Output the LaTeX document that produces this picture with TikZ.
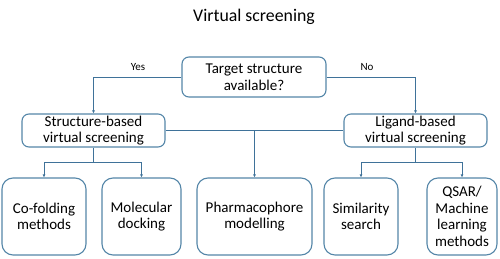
\documentclass[tikz,border=0pt]{standalone}
\usepackage{fontspec}
\setmainfont{Carlito}
\usetikzlibrary{arrows.meta}
\definecolor{boxc}{HTML}{5486A8}
\definecolor{linec}{HTML}{3F7299}
\begin{document}
\begin{tikzpicture}[x=1pt,y=-1pt,
  box/.style={draw=boxc,line width=1.1pt,rounded corners=7pt,align=center,inner sep=0pt,font=\fontsize{15}{16.5}\selectfont},
  bigbox/.style={box,rounded corners=11pt},
  conn/.style={draw=linec,line width=0.9pt},
  arr/.style={conn,-{Latex[length=3pt,width=3pt]}},
  lab/.style={font=\fontsize{11}{12}\selectfont,inner sep=0pt}]
\useasboundingbox (0,0) rectangle (500,259);
\node[font=\fontsize{17.8}{20}\selectfont,inner sep=0pt] (title) at (254,17) {Virtual screening};
\node[box,minimum width=144pt,minimum height=40pt] (ts) at (254,77) {Target structure\\available?};
\node[box,minimum width=143pt,minimum height=33pt] (sb) at (93.5,130.5) {Structure-based\\virtual screening};
\node[box,minimum width=143pt,minimum height=33pt] (lb) at (415.5,130.5) {Ligand-based\\virtual screening};
\node[bigbox,minimum width=84pt,minimum height=77pt] (cf) at (44,216.5) {Co-folding\\methods};
\node[bigbox,minimum width=79pt,minimum height=77pt] (md) at (141.5,216.5) {Molecular\\docking};
\node[bigbox,minimum width=115pt,minimum height=77pt] (ph) at (254.5,216.5) {Pharmacophore\\modelling};
\node[bigbox,minimum width=74pt,minimum height=77pt] (ss) at (361,216.5) {Similarity\\search};
\node[bigbox,minimum width=70pt,minimum height=77pt] (qs) at (462,216.5) {QSAR/\\Machine\\learning\\methods};
\node[lab] (yes) at (138,67) {Yes};
\node[lab] (no) at (367,67) {No};
\draw[arr] (ts.west) -| (sb.north);
\draw[arr] (ts.east) -| (lb.north);
\draw[conn] (sb.east) -- (lb.west) coordinate[pos=0.5] (mid);
\draw[arr] (mid) -- (ph.north);
\draw[conn] (sb.south) -- ++(0,15) coordinate (sbj);
\draw[arr] (sbj) -| (cf.north);
\draw[arr] (sbj) -| (md.north);
\draw[conn] (lb.south) -- ++(0,15) coordinate (lbj);
\draw[arr] (lbj) -| (ss.north);
\draw[arr] (lbj) -| (qs.north);
\end{tikzpicture}
\end{document}
